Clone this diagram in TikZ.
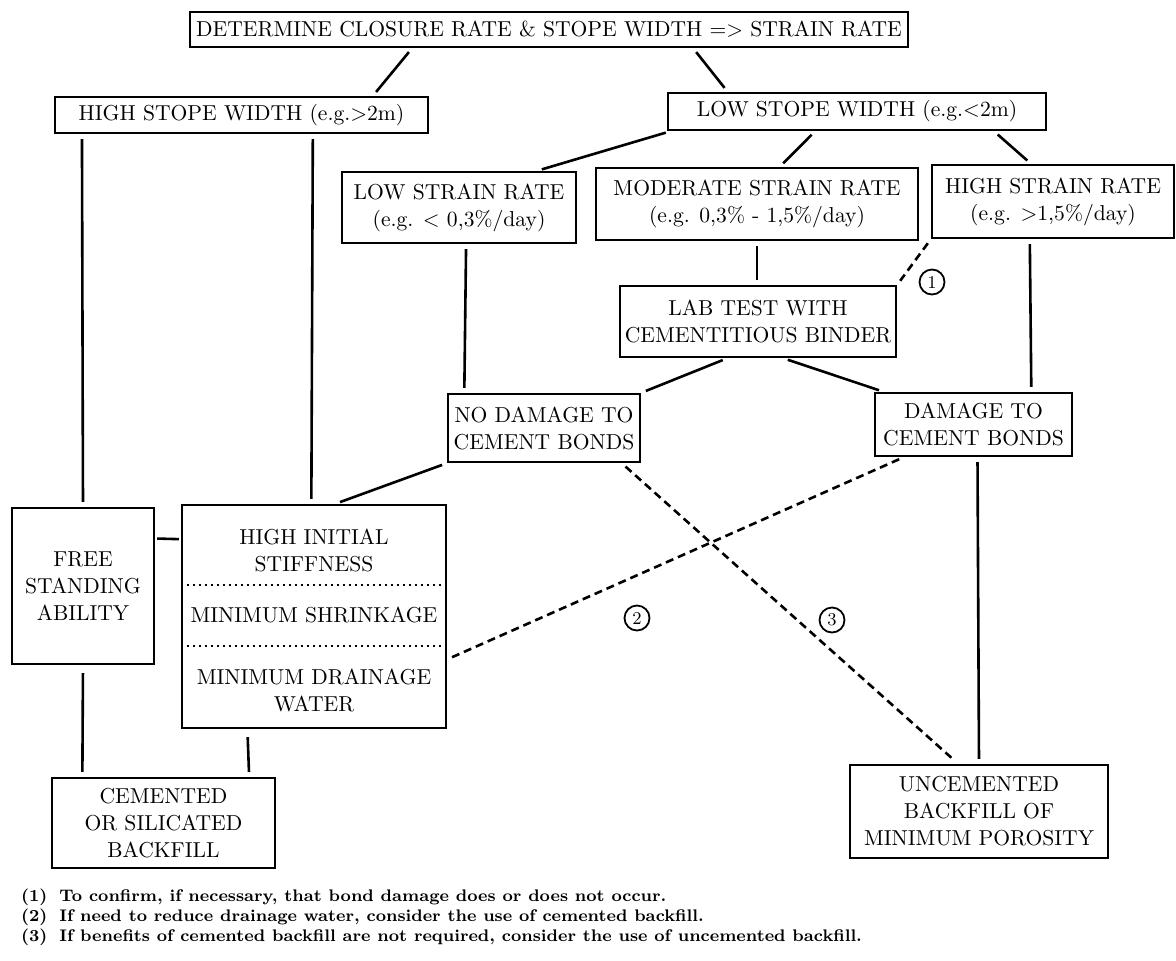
\documentclass[tikz,border=0pt]{standalone}
\usetikzlibrary{calc}
\tikzset{
  flowbox/.style={draw, line width=1.2pt, align=center, inner sep=1pt, font=\fontsize{10.8}{13.5}\selectfont},
  link/.style={line width=1.3pt, shorten <=2.5pt, shorten >=2.5pt},
  dlink/.style={link, dash pattern=on 4pt off 2.5pt},
  numcirc/.style={draw, circle, line width=0.9pt, inner sep=0.5pt, minimum size=12.5pt, font=\small}
}
\begin{document}
\begin{tikzpicture}[x=0.5pt,y=-0.5pt]
		\useasboundingbox (0,0) rectangle (1176,960);
		% boxes
		\node[flowbox, minimum width=359pt, minimum height=17.5pt] (det) at (549,29.5) {DETERMINE CLOSURE RATE \& STOPE WIDTH => STRAIN RATE};
		\node[flowbox, minimum width=186.5pt, minimum height=18pt] (hsw) at (241.5,115) {HIGH STOPE WIDTH (e.g.>2m)};
		\node[flowbox, minimum width=189pt, minimum height=18.5pt] (lsw) at (857,111.5) {LOW STOPE WIDTH (e.g.<2m)};
		\node[flowbox, minimum width=117pt, minimum height=35.5pt] (lsr) at (459,207.5) {LOW STRAIN RATE\\(e.g. < 0,3\%/day)};
		\node[flowbox, minimum width=161pt, minimum height=36pt] (msr) at (757,204) {MODERATE STRAIN RATE\\(e.g. 0,3\% - 1,5\%/day)};
		\node[flowbox, minimum width=121pt, minimum height=36.5pt] (hsr) at (1053,201.5) {HIGH STRAIN RATE\\(e.g. >1,5\%/day)};
		\node[flowbox, minimum width=138pt, minimum height=35.5pt] (lab) at (758,321.5) {LAB TEST WITH\\CEMENTITIOUS BINDER};
		\node[flowbox, minimum width=96pt, minimum height=34pt] (nod) at (544,428) {NO DAMAGE TO\\CEMENT BONDS};
		\node[flowbox, minimum width=98.5pt, minimum height=31.5pt] (dam) at (973.5,424.5) {DAMAGE TO\\CEMENT BONDS};
		\node[flowbox, minimum width=71pt, minimum height=78pt] (fsa) at (83,586) {FREE\\STANDING\\ABILITY};
		\node[flowbox, minimum width=132pt, minimum height=111.5pt] (hist) at (314,616.5) {};
		\node[flowbox, draw=none] (hist1) at (314,550) {HIGH INITIAL\\STIFFNESS};
		\node[flowbox, draw=none] (hist2) at (314,615) {MINIMUM SHRINKAGE};
		\node[flowbox, draw=none] (hist3) at (314,690) {MINIMUM DRAINAGE\\WATER};
		\draw[dotted, line width=1pt] ($(hist.north west)!0.36!(hist.south west)$) -- ($(hist.north east)!0.36!(hist.south east)$);
		\draw[dotted, line width=1pt] ($(hist.north west)!0.63!(hist.south west)$) -- ($(hist.north east)!0.63!(hist.south east)$);
		\node[flowbox, minimum width=111.5pt, minimum height=45pt] (cem) at (163.5,823) {CEMENTED\\OR SILICATED\\BACKFILL};
		\node[flowbox, minimum width=129pt, minimum height=46.5pt] (unc) at (979,811.5) {UNCEMENTED\\BACKFILL OF\\MINIMUM POROSITY};
		% connectors
		\draw[link] ($(det.south west)!0.31!(det.south east)$) -- ($(hsw.north west)!0.85!(hsw.north east)$);
		\draw[link] ($(det.south west)!0.70!(det.south east)$) -- ($(lsw.north west)!0.16!(lsw.north east)$);
		\draw[link] ($(lsw.south west)!0.01!(lsw.south east)$) -- ($(lsr.north west)!0.83!(lsr.north east)$);
		\draw[link] ($(lsw.south west)!0.39!(lsw.south east)$) -- ($(msr.north west)!0.57!(msr.north east)$);
		\draw[link] ($(lsw.south west)!0.86!(lsw.south east)$) -- ($(hsr.north west)!0.41!(hsr.north east)$);
		\draw[link] ($(lsr.south west)!0.53!(lsr.south east)$) -- ($(nod.north west)!0.09!(nod.north east)$);
		\draw[link] (msr.south) -- (msr.south |- lab.north);
		\draw[dlink] (hsr.south west) -- (lab.north east);
		\draw[link] ($(hsr.south west)!0.405!(hsr.south east)$) -- ($(dam.north west)!0.79!(dam.north east)$);
		\draw[link] ($(lab.south west)!0.39!(lab.south east)$) -- (nod.north east);
		\draw[link] ($(lab.south west)!0.59!(lab.south east)$) -- ($(dam.north west)!0.05!(dam.north east)$);
		\draw[link] ($(hsw.south west)!0.075!(hsw.south east)$) -- (fsa.north);
		\draw[link] ($(hsw.south west)!0.69!(hsw.south east)$) -- ($(hist.north west)!0.49!(hist.north east)$);
		\draw[link] (nod.south west) -- ($(hist.north west)!0.58!(hist.north east)$);
		\draw[link, shorten <=1pt, shorten >=1pt] ($(fsa.north east)!0.2!(fsa.south east)$) -- ($(hist.north west)!0.157!(hist.south west)$);
		\draw[link, shorten <=4pt] (fsa.south) -- ($(cem.north west)!0.14!(cem.north east)$);
		\draw[link, shorten <=4pt] ($(hist.south west)!0.25!(hist.south east)$) -- ($(cem.north west)!0.88!(cem.north east)$);
		\draw[link] ($(dam.south west)!0.52!(dam.south east)$) -- ($(unc.north west)!0.5!(unc.north east)$);
		\draw[dlink] ($(dam.south west)!0.15!(dam.south east)$) -- ($(hist.north east)!0.69!(hist.south east)$);
		\draw[dlink] ($(nod.south west)!0.9!(nod.south east)$) -- ($(unc.north west)!0.42!(unc.north east)$);
		% numbered remarks
		\node[numcirc] (n1) at (932,282) {1};
		\node[numcirc] (n2) at (637,618) {2};
		\node[numcirc] (n3) at (832,620) {3};
		\node[anchor=west, font=\fontsize{8.4}{10}\selectfont\bfseries] (notes) at (14,917) {%
			\begin{tabular}{@{}l@{\hspace{6pt}}l@{}}
			(1) & To confirm, if necessary, that bond damage does or does not occur.\\
			(2) & If need to reduce drainage water, consider the use of cemented backfill.\\
			(3) & If benefits of cemented backfill are not required, consider the use of uncemented backfill.
			\end{tabular}};
	\end{tikzpicture}
\end{document}
